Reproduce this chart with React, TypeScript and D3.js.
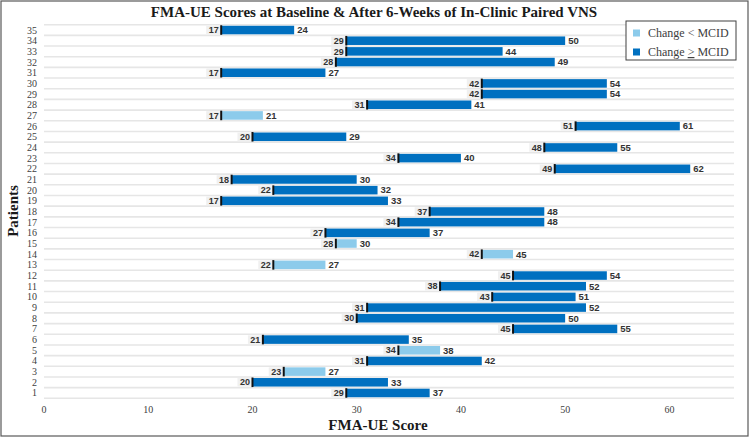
import * as d3 from 'd3'

// patient ids, top to bottom
const patients = [
  35, 34, 33, 32, 31, 30, 29, 28, 27, 26, 25, 24, 23, 22, 21, 20, 19, 18, 17, 16, 15, 14, 13, 12, 11, 10, 9, 8, 7,
  6, 5, 4, 3, 2, 1,
]
const baseline = [
  17, 29, 29, 28, 17, 42, 42, 31, 17, 51, 20, 48, 34, 49, 18, 22, 17, 37, 34, 27, 28, 42, 22, 45, 38, 43, 31, 30,
  45, 21, 34, 31, 23, 20, 29,
]
const after = [
  24, 50, 44, 49, 27, 54, 54, 41, 21, 61, 29, 55, 40, 62, 30, 32, 33, 48, 48, 37, 30, 45, 27, 54, 52, 51, 52, 50,
  55, 35, 38, 42, 27, 33, 37,
]
// true where change reached the MCID
const metMcid = [
  true, true, true, true, true, true, true, true, false, true, true, true, true, true, true, true, true, true, true,
  true, false, false, false, true, true, true, true, true, true, true, false, true, false, true, true,
]
const xTicks = [0, 10, 20, 30, 40, 50, 60]

const W = 750
const H = 437
const DARK = '#0070c0'
const LIGHT = '#8ccbeb'
const serif = '"Liberation Serif", "Times New Roman", serif'
const sans = '"Liberation Sans", Arial, sans-serif'

export default function App() {
  const x = d3.scaleLinear().domain([0, 66.2]).range([44, 734])
  const y = d3
    .scaleBand<number>()
    .domain(patients)
    .range([24.7, 398.3])
    .paddingInner(0.2)
    .paddingOuter(0.1)
  const step = y.step()

  const rows = patients.map((p, i) => ({ p, b: baseline[i], a: after[i], ok: metMcid[i] }))

  return (
    <svg width={W} height={H} style={{ position: 'absolute', left: 0, top: 0, background: '#fff' }}>
      <rect x={1} y={1} width={W - 3} height={H - 2} fill="#fff" stroke="#595959" strokeWidth={1.2} />

      {/* row separators */}
      {d3.range(patients.length + 1).map((i) => {
        const yy = 24.7 + i * step
        return <line key={i} x1={x(0)} x2={x(66.2)} y1={yy} y2={yy} stroke="#e6e6e6" strokeWidth={1.6} />
      })}

      {/* y labels */}
      {rows.map((r) => (
        <text
          key={'yl' + r.p}
          x={37}
          y={y(r.p)! + y.bandwidth() / 2}
          dy="0.35em"
          textAnchor="end"
          fontFamily={serif}
          fontSize={10}
          fill="#404040"
        >
          {r.p}
        </text>
      ))}

      {/* bars */}
      {rows.map((r) => {
        const top = y(r.p)!
        const h = y.bandwidth()
        const cy = top + h / 2
        const bx = x(r.b)
        const ax = x(r.a)
        return (
          <g key={'b' + r.p}>
            <rect x={bx} y={top} width={ax - bx} height={h} fill={r.ok ? DARK : LIGHT} />
            <rect x={bx - 15} y={top} width={14} height={h} fill="#f0f0f0" />
            <line x1={bx} x2={bx} y1={top - 0.5} y2={top + h + 0.5} stroke="#111" strokeWidth={2} />
            <text
              x={bx - 2.5}
              y={cy}
              dy="0.35em"
              textAnchor="end"
              fontFamily={sans}
              fontWeight="bold"
              fontSize={9}
              fill="#333"
            >
              {r.b}
            </text>
            <text x={ax + 3} y={cy} dy="0.35em" fontFamily={sans} fontWeight="bold" fontSize={9.5} fill="#333">
              {r.a}
            </text>
          </g>
        )
      })}

      {/* x axis ticks */}
      {xTicks.map((t) => (
        <text
          key={'xt' + t}
          x={x(t)}
          y={413}
          textAnchor="middle"
          fontFamily={serif}
          fontSize={10}
          fill="#404040"
        >
          {t}
        </text>
      ))}

      <text x={378} y={430} textAnchor="middle" fontFamily={serif} fontWeight="bold" fontSize={15} fill="#1a1a1a">
        FMA-UE Score
      </text>
      <text
        transform="translate(18,211) rotate(-90)"
        textAnchor="middle"
        fontFamily={serif}
        fontWeight="bold"
        fontSize={15}
        fill="#1a1a1a"
      >
        Patients
      </text>
      <text x={374} y={17} textAnchor="middle" fontFamily={serif} fontWeight="bold" fontSize={15} fill="#1a1a1a">
        FMA-UE Scores at Baseline &amp; After 6-Weeks of In-Clinic Paired VNS
      </text>

      {/* legend */}
      <g>
        <rect x={626} y={21} width={110} height={39} fill="#fff" stroke="#404040" strokeWidth={1} />
        <rect x={633} y={29.5} width={7} height={7} fill={LIGHT} />
        <text x={648} y={37} fontFamily={serif} fontSize={12} fill="#404040">
          Change &lt; MCID
        </text>
        <rect x={633} y={48.5} width={7} height={7} fill={DARK} />
        <text x={648} y={56} fontFamily={serif} fontSize={12} fill="#404040">
          Change <tspan textDecoration="underline">&gt;</tspan> MCID
        </text>
      </g>
    </svg>
  )
}
